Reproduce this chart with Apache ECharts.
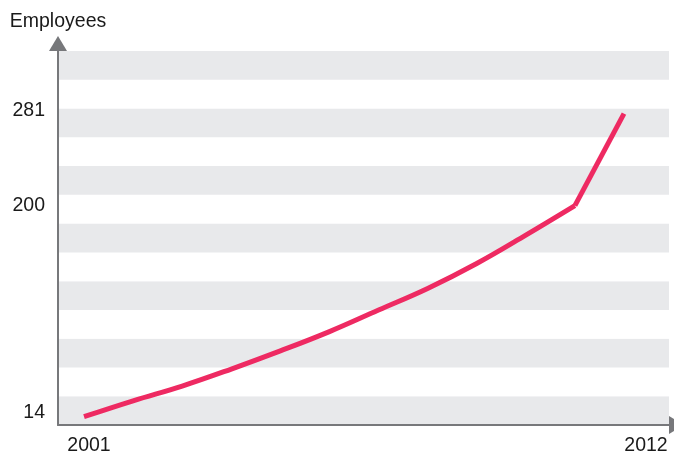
<!DOCTYPE html>
<html>
<head>
<meta charset="utf-8">
<script src="https://cdn.jsdelivr.net/npm/echarts@6/dist/echarts.min.js"></script>
<style>
    html, body { margin: 0; padding: 0; background: #fff; }
    #chart { width: 674px; height: 458px; }
</style>
</head>
<body>
<div id="chart"></div>
<script>
// 数据
const years = [2001, 2002, 2003, 2004, 2005, 2006, 2007, 2008, 2009, 2010, 2011, 2012];
const employees = [14, 28, 41, 56, 72, 89, 108, 127, 149, 174, 200, 281];
const yTickLabels = [14, 200, 281];
const xTickLabels = [2001, 2012];

const axisColor = '#77787b';
const textColor = '#1a1a1a';
const lineColor = '#ee2a62';
const font = 'Liberation Sans, Arial, sans-serif';
const fontSize = 19.5;

const points = years.map((y, i) => [y, employees[i]]);

// 标签微调（上移）
const yLabelShift = { 14: 8, 200: 0, 281: 6 };

const chartDom = echarts.init(document.getElementById('chart'));

chartDom.setOption({
    animation: false,
    grid: {
        left: 58,
        right: 5,
        top: 51,
        bottom: 33
    },
    xAxis: {
        type: 'value',
        min: 2000.47,
        max: 2012.917,
        splitLine: { show: false },
        axisTick: { show: false },
        axisLine: {
            symbol: ['none', 'triangle'],
            symbolSize: [18, 15],
            symbolOffset: [0, 7.5],
            lineStyle: { color: axisColor, width: 2 }
        },
        axisLabel: {
            customValues: xTickLabels,
            margin: 11,
            formatter: v => (v === 2001 ? '{a|' + v + '}' : '{b|' + v + '}'),
            rich: {
                a: { padding: [0, 0, 0, 10], fontSize: fontSize, color: textColor, fontFamily: font },
                b: { padding: [0, 0, 0, 44], fontSize: fontSize, color: textColor, fontFamily: font }
            }
        }
    },
    yAxis: [{
        type: 'value',
        min: 6.7,
        max: 336.2,
        name: 'Employees',
        nameLocation: 'end',
        nameGap: 19,
        nameTextStyle: { fontSize: fontSize, color: textColor, fontFamily: font },
        splitLine: { show: false },
        axisTick: { show: false },
        axisLine: {
            symbol: ['none', 'triangle'],
            symbolSize: [18, 15],
            symbolOffset: [0, 7.5],
            lineStyle: { color: axisColor, width: 2 }
        },
        axisLabel: {
            customValues: yTickLabels,
            margin: 13,
            formatter: v => '{s' + yLabelShift[v] + '|' + v + '}',
            rich: {
                s0: { fontSize: fontSize, color: textColor, fontFamily: font },
                s6: { padding: [0, 0, 6, 0], fontSize: fontSize, color: textColor, fontFamily: font },
                s8: { padding: [0, 0, 8, 0], fontSize: fontSize, color: textColor, fontFamily: font }
            }
        },
        z: 3
    }, {
        // 背景条纹
        type: 'value',
        min: 0,
        max: 13,
        interval: 1,
        position: 'right',
        axisLine: { show: false },
        axisTick: { show: false },
        axisLabel: { show: false },
        splitLine: { show: false },
        splitArea: {
            show: true,
            areaStyle: { color: ['#e8e9eb', '#ffffff'] }
        }
    }],
    series: [{
        // 2001-2011 平滑曲线
        type: 'line',
        data: points.slice(0, 11),
        symbol: 'none',
        smooth: 0.4,
        lineStyle: { color: lineColor, width: 5 },
        z: 4
    }, {
        // 2011-2012 直线
        type: 'line',
        data: points.slice(10),
        symbol: 'none',
        lineStyle: { color: lineColor, width: 5 },
        z: 4
    }]
});
</script>
</body>
</html>
